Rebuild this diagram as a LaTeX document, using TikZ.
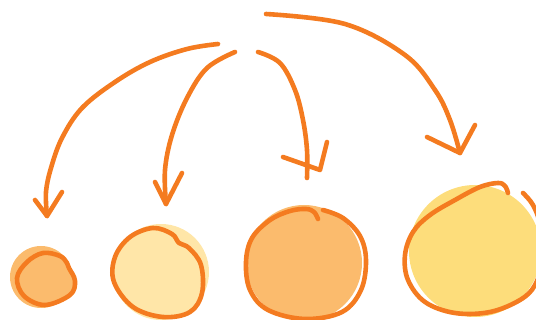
\documentclass[tikz,border=0pt]{standalone}
\begin{document}
\begin{tikzpicture}[x=1pt,y=-1pt,
  ink/.style={draw=strokeorange,line width=4.6pt,line cap=round,line join=round}]
\definecolor{strokeorange}{HTML}{F47B20}
\definecolor{fillorange}{HTML}{FBBB6D}
\definecolor{fillpale}{HTML}{FFE6A8}
\definecolor{fillyellow}{HTML}{FDDD7B}
\useasboundingbox (0,0) rectangle (536,320);
\clip (0,0) rectangle (536,320);
% fill blobs
\fill[fillorange] (41,277) circle (31);
\fill[fillpale] (161,272) circle (48);
\fill[fillorange] (304,263) circle (58);
\fill[fillyellow] (475,251) circle (66);
% outlines
\draw[ink,fill=fillorange] plot[smooth cycle,tension=0.6] coordinates {(43,253) (60,256) (67,263) (69,268) (75,281) (70,295) (45,305) (24,296) (17,278) (27,262)};
\draw[ink,fill=fillpale] plot[smooth cycle,tension=0.6] coordinates {(153,228) (172,234) (179,243) (189,248) (201,265) (202,293) (190,312) (163,317) (133,307) (114,282) (115,257) (130,237)};
\draw[ink] plot[smooth,tension=0.6] coordinates {(323,210) (343,218) (360,236) (366,260) (361,290) (342,312) (305,319) (268,310) (250,290) (246,262) (252,238) (270,220) (290,211) (306,209) (314,212) (318,219)};
\draw[ink] plot[smooth,tension=0.6] coordinates {(523,193) (533,205) (540,225) (542,260) (535,285) (520,300) (490,312) (455,313) (425,302) (408,280) (405,255) (413,232) (430,215) (455,200) (480,187) (498,183) (505,186) (508,193)};
% arrows
\coordinate (a1s) at (218,44);
\coordinate (a1t) at (47,216);
\draw[ink] plot[smooth,tension=0.6] coordinates {(a1s) (187,49) (150,62) (115,82) (82,108) (62,138) (51,168) (46,192) (a1t)};
\draw[ink] (35,200) -- (a1t) -- (62,192);
\coordinate (a2s) at (235,52);
\coordinate (a2t) at (166,204);
\draw[ink] plot[smooth,tension=0.6] coordinates {(a2s) (207,68) (187,98) (172,135) (165,170) (a2t)};
\draw[ink] (155,182) -- (a2t) -- (182,173);
\coordinate (a3s) at (258,52);
\coordinate (a3e) at (307,178);
\coordinate (a3t) at (320,170);
\draw[ink] plot[smooth,tension=0.6] coordinates {(a3s) (280,63) (295,90) (303,120) (307,150) (a3e)};
\draw[ink] (283,157) -- (a3t) -- (327,142);
\coordinate (a4s) at (266,14);
\coordinate (a4t) at (460,153);
\draw[ink] plot[smooth,tension=0.6] coordinates {(a4s) (345,24) (405,55) (435,90) (450,120) (a4t)};
\draw[ink] (427,137) -- (a4t) -- (475,125);
\end{tikzpicture}
\end{document}
